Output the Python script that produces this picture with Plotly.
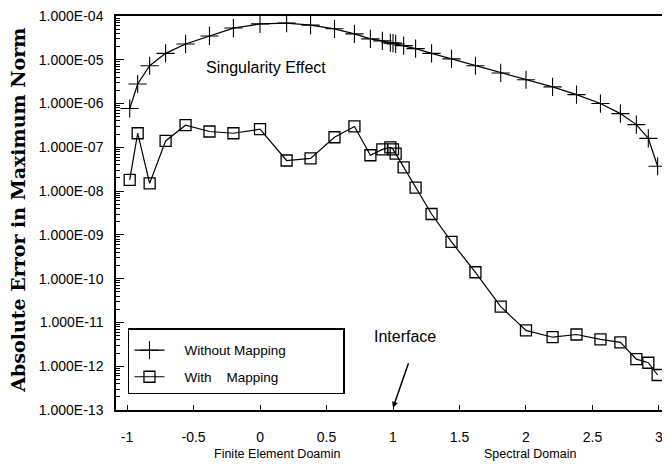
import plotly.graph_objects as go

# x positions (nodes), finite-element part then spectral part
x_nodes = [-0.98, -0.92, -0.83, -0.71, -0.56, -0.38, -0.2, 0.0, 0.2, 0.38, 0.56, 0.71, 0.83, 0.92, 0.98,
           1.0, 1.02, 1.08, 1.17, 1.29, 1.44, 1.62, 1.81, 2.0, 2.2, 2.38, 2.56, 2.71, 2.83, 2.92, 2.99]

err_without = [7.7e-7, 2.8e-6, 7.3e-6, 1.4e-5, 2.3e-5, 3.5e-5, 5.3e-5, 6.6e-5, 6.9e-5, 6.2e-5, 5.1e-5,
               3.9e-5, 3.0e-5, 2.7e-5, 2.45e-5,
               2.4e-5, 2.3e-5, 2.1e-5, 1.8e-5, 1.4e-5, 1.05e-5, 7.3e-6, 5.0e-6, 3.5e-6, 2.4e-6, 1.6e-6,
               1.0e-6, 5.9e-7, 3.3e-7, 1.6e-7, 3.7e-8]

err_with = [1.8e-8, 2.1e-7, 1.5e-8, 1.4e-7, 3.2e-7, 2.3e-7, 2.1e-7, 2.6e-7, 5.0e-8, 5.6e-8, 1.7e-7,
            3.0e-7, 6.6e-8, 9.0e-8, 1.0e-7,
            9.0e-8, 7.2e-8, 3.5e-8, 1.2e-8, 3.0e-9, 6.9e-10, 1.4e-10, 2.3e-11, 6.6e-12, 4.6e-12, 5.3e-12,
            4.1e-12, 3.5e-12, 1.45e-12, 1.2e-12, 6.3e-13]

x_ticks = [-1, -0.5, 0, 0.5, 1, 1.5, 2, 2.5, 3]
x_ticklabels = ["-1", "-0.5", "0", "0.5", "1", "1.5", "2", "2.5", "3"]
y_exponents = [-4, -5, -6, -7, -8, -9, -10, -11, -12, -13]
y_ticklabels = ["1.000E-%02d" % (-e) for e in y_exponents]
y_tickvals = [10.0 ** e for e in y_exponents]
y_minor = [k * 10.0 ** e for e in range(-13, -4) for k in range(2, 10)]

FONT = "Liberation Sans, Arial, sans-serif"
NB = "\u00a0"

fig = go.Figure()
fig.add_trace(go.Scatter(
    x=x_nodes, y=err_without, mode="lines+markers",
    name=NB * 4 + "Without Mapping" + NB * 14,
    legendgroup="a",
    line=dict(color="black", width=1.2),
    marker=dict(symbol="cross-thin", size=13, color="black", line=dict(color="black", width=1.1)),
))
fig.add_trace(go.Scatter(
    x=x_nodes, y=err_with, mode="lines+markers",
    name=NB * 4 + "With" + NB * 4 + "Mapping",
    legendgroup="b",
    line=dict(color="black", width=1.2),
    marker=dict(symbol="square-open", size=11, color="black", line=dict(color="black", width=1.3)),
))

fig.add_annotation(x=0.045, y=-5.18, text="Singularity Effect", showarrow=False,
                   font=dict(family=FONT, size=16, color="black"))
fig.add_annotation(x=1.09, y=-11.32, text="Interface", showarrow=False,
                   font=dict(family=FONT, size=16, color="black"))
fig.add_annotation(x=1.0, y=-12.95, text="", showarrow=True, ax=16, ay=-46,
                   arrowhead=2, arrowsize=0.8, arrowwidth=1.5, arrowcolor="black", standoff=0)
fig.add_annotation(x=0.128, y=-0.134, xref="x", yref="paper", text="Finite Element Doamin",
                   showarrow=False, font=dict(family=FONT, size=12.5, color="black"))
fig.add_annotation(x=2.03, y=-0.134, xref="x", yref="paper", text="Spectral Domain",
                   showarrow=False, font=dict(family=FONT, size=12.5, color="black"))
fig.add_annotation(x=-0.1775, y=0.506, xref="paper", yref="paper", xanchor="center", yanchor="middle",
                   text="<b>Absolute Error in Maximum Norm</b>",
                   textangle=-90, showarrow=False,
                   font=dict(family="DejaVu Serif, serif", size=19, color="black"))

fig.update_layout(
    width=662, height=465,
    margin=dict(l=108, r=2, t=8, b=63, autoexpand=False),
    paper_bgcolor="white", plot_bgcolor="white",
    showlegend=True,
    legend=dict(x=0.0217, y=0.2076, xanchor="left", yanchor="top",
                bordercolor="black", borderwidth=1.5, bgcolor="white",
                font=dict(family=FONT, size=13.5, color="black"),
                title=dict(text=NB, font=dict(size=4)),
                tracegroupgap=6),
    xaxis=dict(range=[-1.083, 3.068], tickmode="array", tickvals=x_ticks, ticktext=x_ticklabels,
               ticks="inside", ticklen=5, tickcolor="black", showgrid=False, zeroline=False,
               showline=True, linecolor="black", linewidth=1.5, mirror=True,
               ticklabelstandoff=13, automargin=False, ticklabeloverflow="allow",
               tickfont=dict(family=FONT, size=14, color="black")),
    yaxis=dict(type="log", range=[-13, -4], tickmode="array", tickvals=y_tickvals, ticktext=y_ticklabels,
               ticks="inside", ticklen=8, tickcolor="black", showgrid=False, zeroline=False,
               showline=True, linecolor="black", linewidth=1.5,
               ticklabelstandoff=8, automargin=False, ticklabeloverflow="allow",
               minor=dict(tickmode="array", tickvals=y_minor, ticks="inside", ticklen=4,
                          tickcolor="black", showgrid=False),
               tickfont=dict(family=FONT, size=14, color="black")),
)

fig.write_html("out.html")
